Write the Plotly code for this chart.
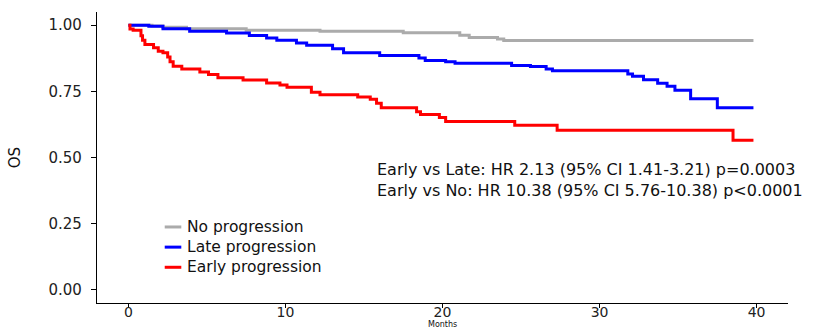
import plotly.graph_objects as go

# Kaplan-Meier step estimates: time (months) and overall survival probability
no_prog_t = [0, 1.5, 2.2, 3.7, 7.5, 12.2, 17.5, 21.1, 21.7, 23.5, 23.9, 39.8]
no_prog_s = [1.0, 0.997, 0.992, 0.987, 0.981, 0.977, 0.972, 0.962, 0.954, 0.948, 0.942, 0.942]

late_prog_t = [0, 1.3, 2.2, 3.9, 6.25, 7.7, 8.8, 9.45, 10.7, 11.35, 13.0, 13.7, 16.0,
               18.5, 18.9, 20.2, 20.8, 24.4, 25.6, 26.6, 27.0, 31.8, 32.1, 32.8, 33.7,
               34.3, 34.8, 35.8, 37.5, 39.8]
late_prog_s = [1.0, 0.996, 0.987, 0.977, 0.971, 0.961, 0.952, 0.943, 0.933, 0.924, 0.911, 0.896, 0.886,
               0.876, 0.867, 0.862, 0.856, 0.848, 0.844, 0.835, 0.828, 0.816, 0.807, 0.794, 0.781,
               0.769, 0.754, 0.722, 0.688, 0.688]

early_prog_t = [0, 0.1, 0.3, 0.8, 0.9, 1.05, 1.6, 1.9, 2.2, 2.5, 2.65, 2.85, 3.4, 4.55, 5.1,
                5.7, 7.3, 8.8, 9.65, 10.1, 11.65, 12.2, 14.6, 15.4, 15.8, 16.1, 18.35, 18.6,
                19.8, 20.2, 24.6, 27.3, 38.5, 39.8]
early_prog_s = [1.0, 0.986, 0.981, 0.96, 0.943, 0.927, 0.915, 0.902, 0.896, 0.88, 0.862, 0.845, 0.835, 0.823, 0.814,
                0.801, 0.793, 0.782, 0.774, 0.766, 0.747, 0.737, 0.729, 0.72, 0.705, 0.688, 0.673, 0.663,
                0.651, 0.636, 0.622, 0.603, 0.565, 0.565]

group_names = ["No progression", "Late progression", "Early progression"]
group_colors = ["#ABABAB", "#0000FF", "#FF0000"]

x_ticks = [0, 10, 20, 30, 40]
y_ticks = [0.0, 0.25, 0.5, 0.75, 1.0]
y_tick_labels = ["0.00", "0.25", "0.50", "0.75", "1.00"]

hr_lines = [
    "Early vs Late: HR 2.13 (95% CI 1.41-3.21) p=0.0003",
    "Early vs No: HR 10.38 (95% CI 5.76-10.38) p<0.0001",
]

FONT = "DejaVu Sans"
LEGEND_SIZE = 15.5
LINE_STEP = 1.3 * LEGEND_SIZE  # line spacing of a multi-line annotation, px
MARGIN_B = 27
PLOT_H = 330 - 12 - MARGIN_B    # plot area height, px

fig = go.Figure()
series = [(no_prog_t, no_prog_s), (late_prog_t, late_prog_s), (early_prog_t, early_prog_s)]
for (t, s), name, color in zip(series, group_names, group_colors):
    fig.add_trace(go.Scatter(
        x=t, y=s, mode="lines", name=name, showlegend=False,
        line=dict(shape="hv", color=color, width=3),
    ))

# Compact legend in the lower-left corner of the panel: one text block, short line keys
legend_center = 0.192
shapes = []
for i, color in enumerate(group_colors):
    ly = legend_center + (1 - i) * LINE_STEP / PLOT_H
    shapes.append(dict(type="line", xref="paper", yref="paper",
                       x0=0.098, x1=0.122, y0=ly, y1=ly,
                       line=dict(color=color, width=3)))

annotations = [
    dict(xref="paper", yref="paper", x=0.128, y=legend_center,
         text="<br>".join(group_names), align="left",
         showarrow=False, xanchor="left", yanchor="middle",
         font=dict(family=FONT, size=LEGEND_SIZE, color="#111111")),
    # Hazard ratio summary
    dict(xref="paper", yref="y", x=0.402, y=0.416,
         text="<br>".join(hr_lines), align="left",
         showarrow=False, xanchor="left", yanchor="middle",
         font=dict(family=FONT, size=16, color="#111111")),
    # Axis titles
    dict(xref="paper", yref="paper", x=-0.119, y=0.5, text="OS",
         textangle=-90, showarrow=False, xanchor="center", yanchor="middle",
         font=dict(family=FONT, size=15, color="#111111")),
    dict(xref="paper", yref="paper", x=0.5, y=-MARGIN_B / PLOT_H, text="Months",
         showarrow=False, xanchor="center", yanchor="bottom", borderpad=0,
         font=dict(family=FONT, size=8, color="#111111")),
]

axis_common = dict(showline=True, linecolor="black", linewidth=1.3, ticks="outside",
                   tickwidth=1.2, tickcolor="black", showgrid=False, zeroline=False,
                   automargin=False)

fig.update_layout(
    width=833, height=330,
    margin=dict(l=97, r=45, t=12, b=MARGIN_B, pad=0),
    plot_bgcolor="white", paper_bgcolor="white",
    font=dict(family=FONT, size=15, color="#222222"),
    xaxis=dict(range=[-2, 42], tickvals=x_ticks, ticklen=4, ticklabelstandoff=-8,
               tickfont=dict(family=FONT, size=14, color="#222222"), **axis_common),
    yaxis=dict(range=[-0.05, 1.05], tickvals=y_ticks, ticktext=y_tick_labels,
               ticklen=5, ticklabelstandoff=6,
               tickfont=dict(family=FONT, size=15, color="#222222"), **axis_common),
    shapes=shapes,
    annotations=annotations,
)

fig.write_html("out.html")
